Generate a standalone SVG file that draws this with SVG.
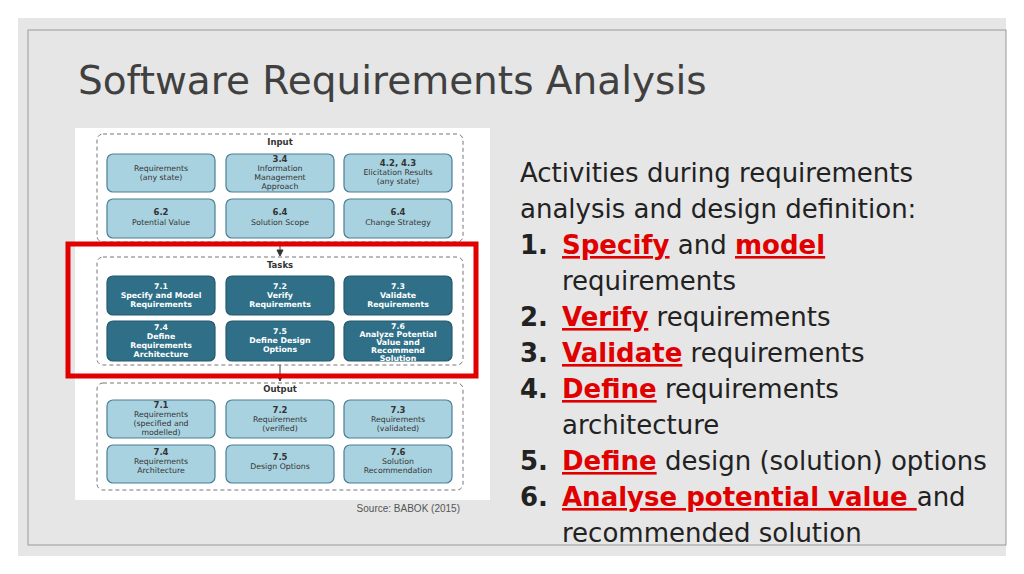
<svg xmlns="http://www.w3.org/2000/svg" width="1024" height="574" viewBox="0 0 1024 574">
<style>
.in{fill:#a9d2e0;stroke:#4a7f95;stroke-width:1.2}
.tk{fill:#2f6f87;stroke:#245a6e;stroke-width:1.2}
.ct{fill:none;stroke:#777;stroke-width:1;stroke-dasharray:4 3}
.s{font-family:"DejaVu Sans",sans-serif;font-size:7.8px;text-anchor:middle;fill:#333}
.b{font-family:"DejaVu Sans",sans-serif;font-size:7.8px;text-anchor:middle;fill:#fff;font-weight:bold}
.h{font-family:"DejaVu Sans",sans-serif;font-size:8.5px;text-anchor:middle;fill:#333;font-weight:bold}
.r{font-family:"DejaVu Sans",sans-serif;font-size:26px;fill:#222}
.u{fill:#e00000;font-weight:bold;text-decoration:underline}
</style>
<rect width="1024" height="574" fill="#fff"/>
<rect x="18" y="18" width="988" height="538" fill="#e6e6e6"/>
<rect x="28" y="30" width="978" height="515" fill="none" stroke="#999" stroke-width="1"/>
<text x="78" y="94" font-family="'DejaVu Sans',sans-serif" font-size="39" fill="#404040">Software Requirements Analysis</text>
<rect x="75" y="128" width="415" height="372" fill="#fff"/>
<g id="input">
<rect class="ct" x="97" y="134" width="366" height="108" rx="6"/>
<text class="h" x="280" y="145">Input</text>
<rect class="in" x="107" y="154" width="108" height="38" rx="6"/><text class="s" x="161" y="171">Requirements</text><text class="s" x="161" y="180">(any state)</text>
<rect class="in" x="226" y="154" width="108" height="38" rx="6"/><text class="h" x="280" y="162">3.4</text><text class="s" x="280" y="171">Information</text><text class="s" x="280" y="180">Management</text><text class="s" x="280" y="189">Approach</text>
<rect class="in" x="344" y="154" width="108" height="38" rx="6"/><text class="h" x="398" y="166">4.2, 4.3</text><text class="s" x="398" y="175">Elicitation Results</text><text class="s" x="398" y="184">(any state)</text>
<rect class="in" x="107" y="199" width="108" height="39" rx="6"/><text class="h" x="161" y="215">6.2</text><text class="s" x="161" y="225">Potential Value</text>
<rect class="in" x="226" y="199" width="108" height="39" rx="6"/><text class="h" x="280" y="215">6.4</text><text class="s" x="280" y="225">Solution Scope</text>
<rect class="in" x="344" y="199" width="108" height="39" rx="6"/><text class="h" x="398" y="215">6.4</text><text class="s" x="398" y="225">Change Strategy</text>
</g>
<g id="tasks">
<rect class="ct" x="97" y="257" width="366" height="108" rx="6"/>
<text class="h" x="280" y="268">Tasks</text>
<rect class="tk" x="107" y="276" width="108" height="39" rx="6"/><text class="b" x="161" y="289">7.1</text><text class="b" x="161" y="298">Specify and Model</text><text class="b" x="161" y="307">Requirements</text>
<rect class="tk" x="226" y="276" width="108" height="39" rx="6"/><text class="b" x="280" y="289">7.2</text><text class="b" x="280" y="298">Verify</text><text class="b" x="280" y="307">Requirements</text>
<rect class="tk" x="344" y="276" width="108" height="39" rx="6"/><text class="b" x="398" y="289">7.3</text><text class="b" x="398" y="298">Validate</text><text class="b" x="398" y="307">Requirements</text>
<rect class="tk" x="107" y="321" width="108" height="40" rx="6"/><text class="b" x="161" y="330">7.4</text><text class="b" x="161" y="339">Define</text><text class="b" x="161" y="348">Requirements</text><text class="b" x="161" y="357">Architecture</text>
<rect class="tk" x="226" y="321" width="108" height="40" rx="6"/><text class="b" x="280" y="334">7.5</text><text class="b" x="280" y="343">Define Design</text><text class="b" x="280" y="352">Options</text>
<rect class="tk" x="344" y="321" width="108" height="40" rx="6"/><text class="b" x="398" y="329">7.6</text><text class="b" x="398" y="337">Analyze Potential</text><text class="b" x="398" y="345">Value and</text><text class="b" x="398" y="353">Recommend</text><text class="b" x="398" y="361">Solution</text>
</g>
<g id="output">
<rect class="ct" x="97" y="383" width="366" height="107" rx="6"/>
<text class="h" x="280" y="392">Output</text>
<rect class="in" x="107" y="400" width="108" height="38" rx="6"/><text class="h" x="161" y="408">7.1</text><text class="s" x="161" y="417">Requirements</text><text class="s" x="161" y="426">(specified and</text><text class="s" x="161" y="435">modelled)</text>
<rect class="in" x="226" y="400" width="108" height="38" rx="6"/><text class="h" x="280" y="413">7.2</text><text class="s" x="280" y="422">Requirements</text><text class="s" x="280" y="431">(verified)</text>
<rect class="in" x="344" y="400" width="108" height="38" rx="6"/><text class="h" x="398" y="413">7.3</text><text class="s" x="398" y="422">Requirements</text><text class="s" x="398" y="431">(validated)</text>
<rect class="in" x="107" y="445" width="108" height="38" rx="6"/><text class="h" x="161" y="455">7.4</text><text class="s" x="161" y="464">Requirements</text><text class="s" x="161" y="473">Architecture</text>
<rect class="in" x="226" y="445" width="108" height="38" rx="6"/><text class="h" x="280" y="460">7.5</text><text class="s" x="280" y="469">Design Options</text>
<rect class="in" x="344" y="445" width="108" height="38" rx="6"/><text class="h" x="398" y="455">7.6</text><text class="s" x="398" y="464">Solution</text><text class="s" x="398" y="473">Recommendation</text>
</g>
<g id="connectors" stroke="#333" fill="#333">
<line x1="280" y1="242" x2="280" y2="252"/><path d="M277 250 L283 250 L280 256Z"/>
<line x1="280" y1="365" x2="280" y2="377"/><path d="M277 375 L283 375 L280 381Z"/>
</g>
<rect x="68" y="244" width="408" height="132" fill="none" stroke="#e00000" stroke-width="5"/>
<text x="460" y="512" font-family="'Liberation Sans',sans-serif" font-size="10" fill="#555" text-anchor="end">Source: BABOK (2015)</text>
<g class="r">
<text x="520" y="182">Activities during requirements</text>
<text x="520" y="218">analysis and design definition:</text>
<text x="520" y="254" font-weight="bold">1.</text><text x="562" y="254"><tspan class="u">Specify</tspan> and <tspan class="u">model</tspan></text>
<text x="562" y="290">requirements</text>
<text x="520" y="326" font-weight="bold">2.</text><text x="562" y="326"><tspan class="u">Verify</tspan> requirements</text>
<text x="520" y="362" font-weight="bold">3.</text><text x="562" y="362"><tspan class="u">Validate</tspan> requirements</text>
<text x="520" y="398" font-weight="bold">4.</text><text x="562" y="398"><tspan class="u">Define</tspan> requirements</text>
<text x="562" y="434">architecture</text>
<text x="520" y="470" font-weight="bold">5.</text><text x="562" y="470"><tspan class="u">Define</tspan> design (solution) options</text>
<text x="520" y="506" font-weight="bold">6.</text><text x="562" y="506"><tspan class="u">Analyse potential value </tspan>and</text>
<text x="562" y="542">recommended solution</text>
</g>
</svg>
